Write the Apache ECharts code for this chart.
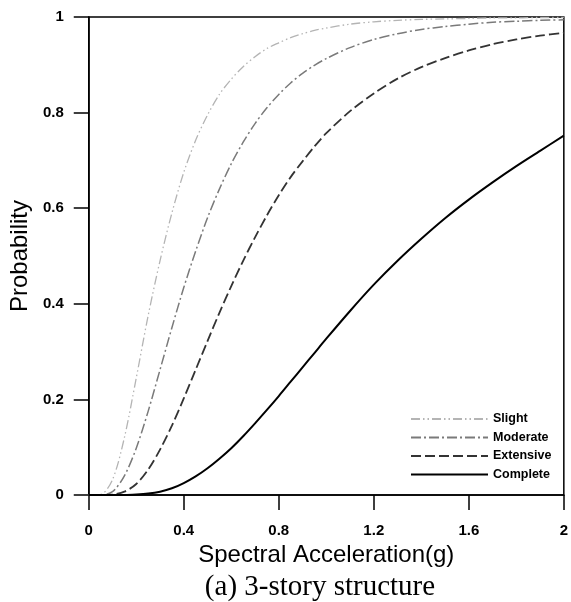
<!DOCTYPE html>
<html>
<head>
<meta charset="utf-8">
<script src="https://cdn.jsdelivr.net/npm/echarts@6/dist/echarts.min.js"></script>
<style>
html,body{margin:0;padding:0;background:#fff;}
#chart{width:571px;height:602px;}
</style>
</head>
<body>
<div id="chart"></div>
<script>
// Spectral acceleration (g)
const xValues = [0, 0.05, 0.1, 0.15, 0.2, 0.25, 0.3, 0.35, 0.4, 0.45, 0.5, 0.55, 0.6, 0.65, 0.7, 0.75, 0.8, 0.85, 0.9, 0.95, 1.0,
  1.1, 1.2, 1.3, 1.4, 1.5, 1.6, 1.7, 1.8, 1.9, 2.0];
const slight = [0, 0.001, 0.032, 0.12, 0.245, 0.375, 0.49, 0.59, 0.675, 0.742, 0.795, 0.838, 0.87, 0.896, 0.917, 0.934, 0.946, 0.957, 0.965, 0.972, 0.977,
  0.985, 0.99, 0.993, 0.995, 0.996, 0.997, 0.998, 0.998, 0.999, 0.999];
const moderate = [0, 0, 0.007, 0.04, 0.098, 0.175, 0.262, 0.35, 0.434, 0.51, 0.58, 0.64, 0.693, 0.738, 0.777, 0.81, 0.838, 0.862, 0.882, 0.899, 0.913,
  0.936, 0.953, 0.965, 0.974, 0.98, 0.985, 0.989, 0.991, 0.993, 0.994];
const extensive = [0, 0, 0.001, 0.007, 0.023, 0.053, 0.095, 0.145, 0.202, 0.262, 0.322, 0.381, 0.437, 0.49, 0.539, 0.585, 0.627, 0.665, 0.698, 0.729, 0.757,
  0.803, 0.84, 0.871, 0.895, 0.914, 0.93, 0.943, 0.953, 0.961, 0.967];
const complete = [0, 0, 0, 0, 0.001, 0.003, 0.007, 0.014, 0.025, 0.039, 0.056, 0.076, 0.098, 0.123, 0.15, 0.178, 0.207, 0.237, 0.267, 0.297, 0.327,
  0.385, 0.44, 0.49, 0.536, 0.579, 0.618, 0.654, 0.688, 0.72, 0.752];
const seriesNames = ['Slight', 'Moderate', 'Extensive', 'Complete'];
const xTicks = ['0', '0.4', '0.8', '1.2', '1.6', '2'];
const yTicks = ['0', '0.2', '0.4', '0.6', '0.8', '1'];

const pairs = arr => xValues.map((x, i) => [x, arr[i]]);
const styles = [
  {color: '#b4b4b4', width: 1.3, type: [9, 3, 1.5, 3, 1.5, 3]},
  {color: '#7a7a7a', width: 1.5, type: [10, 3, 2, 3]},
  {color: '#333333', width: 1.8, type: [10, 4]},
  {color: '#000000', width: 2, type: 'solid'}
];
const dataSets = [slight, moderate, extensive, complete];

const chart = echarts.init(document.getElementById('chart'), null, {renderer: 'canvas'});
chart.setOption({
  animation: false,
  backgroundColor: '#fff',
  grid: {left: 87, right: 4, top: 17, bottom: 107, show: true, borderColor: '#000', borderWidth: 1.5, backgroundColor: 'transparent'},
  xAxis: {
    type: 'value', min: 0, max: 2, interval: 0.4,
    axisLine: {show: true, lineStyle: {color: '#000', width: 1.5}},
    axisTick: {show: true, length: 15, lineStyle: {color: '#000', width: 1.5}},
    splitLine: {show: false},
    axisLabel: {margin: 28, color: '#000', fontWeight: 'bold', fontSize: 15, fontFamily: 'Liberation Sans',
      formatter: v => xTicks[Math.round(v / 0.4)] ?? ''},
    name: 'Spectral Acceleration(g)', nameLocation: 'middle', nameGap: 45,
    nameTextStyle: {color: '#000', fontSize: 24, fontFamily: 'Liberation Sans'}
  },
  yAxis: {
    type: 'value', min: 0, max: 1, interval: 0.2,
    axisLine: {show: true, lineStyle: {color: '#000', width: 1.5}},
    axisTick: {show: true, length: 15, lineStyle: {color: '#000', width: 1.5}},
    splitLine: {show: false},
    axisLabel: {margin: 25, color: '#000', fontWeight: 'bold', fontSize: 15, fontFamily: 'Liberation Sans',
      formatter: v => yTicks[Math.round(v / 0.2)] ?? ''},
    name: 'Probability', nameLocation: 'middle', nameGap: 51,
    nameTextStyle: {color: '#000', fontSize: 24, fontFamily: 'Liberation Sans'}
  },
  legend: {
    orient: 'vertical', left: 405, top: 407, itemWidth: 77, itemHeight: 10, itemGap: 4.5,
    itemStyle: {opacity: 0},
    textStyle: {color: '#000', fontWeight: 'bold', fontSize: 12.5, lineHeight: 14, fontFamily: 'Liberation Sans'},
    data: seriesNames
  },
  graphic: [{
    type: 'text',
    style: {text: '(a) 3-story structure', font: '29px "Liberation Serif"', fill: '#000', x: 320, y: 587, align: 'center', verticalAlign: 'middle'}
  }],
  series: dataSets.map((arr, i) => ({
    name: seriesNames[i], type: 'line', data: pairs(arr), smooth: 0.3,
    symbol: 'none', showSymbol: false,
    lineStyle: styles[i], itemStyle: {color: styles[i].color}
  }))
});
</script>
</body>
</html>
